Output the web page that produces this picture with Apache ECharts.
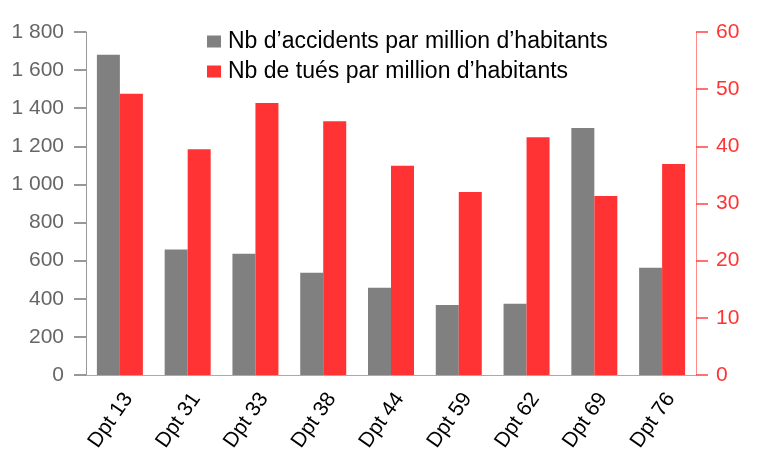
<!DOCTYPE html>
<html>
<head>
<meta charset="utf-8">
<script src="https://cdn.jsdelivr.net/npm/echarts@6/dist/echarts.min.js"></script>
<style>
  html, body { margin: 0; padding: 0; background: #fff; }
  #chart { width: 764px; height: 465px; }
</style>
</head>
<body>
<div id="chart"></div>
<script>
// départements
const categories = ['Dpt 13', 'Dpt 31', 'Dpt 33', 'Dpt 38', 'Dpt 44', 'Dpt 59', 'Dpt 62', 'Dpt 69', 'Dpt 76'];
// accidents par million d'habitants (axe gauche)
const accidents = [1680, 658, 636, 537, 458, 368, 374, 1296, 563];
// tués par million d'habitants (axe droit)
const tues = [49.2, 39.5, 47.6, 44.4, 36.6, 32.0, 41.6, 31.3, 36.9];

const font = 'Liberation Sans, Arial, sans-serif';

let myChart = echarts.init(document.getElementById('chart'));
myChart.setOption({
  animation: false,
  textStyle: { fontFamily: font },
  grid: { left: 86, right: 68, top: 32, bottom: 90 },
  legend: {
    orient: 'vertical',
    left: 207,
    top: 30,
    padding: 0,
    itemWidth: 14,
    itemHeight: 12,
    itemGap: 7,
    icon: 'rect',
    textStyle: { fontSize: 23, color: '#000', fontFamily: font, padding: [0, 0, 0, 2] },
    data: ["Nb d\u2019accidents par million d\u2019habitants", "Nb de tu\u00e9s par million d\u2019habitants"]
  },
  xAxis: {
    type: 'category',
    data: categories,
    axisLine: { lineStyle: { color: '#aaa' } },
    axisTick: { alignWithLabel: false, length: 10, lineStyle: { color: '#aaa' } },
    axisLabel: { rotate: 55, fontSize: 21, color: '#000', margin: 14, verticalAlign: 'top', fontFamily: font }
  },
  yAxis: [{
    type: 'value',
    min: 0, max: 1800, interval: 200,
    splitLine: { show: false },
    axisLine: { show: true, lineStyle: { color: '#999' } },
    axisTick: { show: true, inside: false, length: 12, lineStyle: { color: '#777', width: 1.5 } },
    axisLabel: {
      fontSize: 21, color: '#666', margin: 22, fontFamily: font,
      formatter: v => String(v).replace(/\B(?=(\d{3})+(?!\d))/g, ' ')
    }
  }, {
    type: 'value',
    min: 0, max: 60, interval: 10,
    position: 'right',
    splitLine: { show: false },
    axisLine: { show: true, lineStyle: { color: '#ff8a8a' } },
    axisTick: { show: true, inside: false, length: 12, lineStyle: { color: '#ff4444', width: 1.5 } },
    axisLabel: { fontSize: 21, color: '#ff3333', margin: 20, fontFamily: font }
  }],
  series: [{
    name: "Nb d\u2019accidents par million d\u2019habitants",
    type: 'bar',
    yAxisIndex: 0,
    data: accidents,
    barWidth: 23,
    barGap: '0%',
    itemStyle: { color: '#808080' }
  }, {
    name: "Nb de tu\u00e9s par million d\u2019habitants",
    type: 'bar',
    yAxisIndex: 1,
    data: tues,
    barWidth: 23,
    barGap: '0%',
    itemStyle: { color: '#ff3333' }
  }]
});
</script>
</body>
</html>
